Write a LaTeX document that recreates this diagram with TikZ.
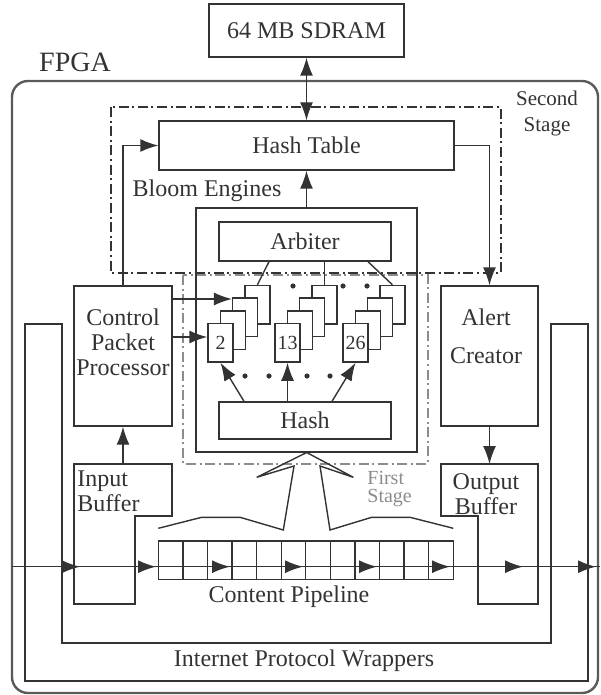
\documentclass[tikz,border=0pt]{standalone}
\usepackage{fontspec}
\setmainfont{Liberation Serif}
\usepackage{xcolor}
\usepackage{tikz}
\usetikzlibrary{positioning, arrows.meta, calc, decorations.markings}
\definecolor{ink}{HTML}{333333}
\definecolor{framegray}{HTML}{5A5A5A}
\definecolor{stagegray}{HTML}{8C8C8C}

\tikzset{
  lbl/.style={text=ink, inner sep=0pt, font=\fontsize{12}{12.5}\selectfont},
  blk/.style={draw=ink, line width=0.7pt, inner sep=0pt},
  eng/.style={blk, lbl, fill=white, minimum width=12.5pt, minimum height=19.25pt, font=\fontsize{10}{10}\selectfont},
  cell/.style={blk, minimum width=12.29pt, minimum height=19.15pt},
  arr/.style={draw=ink, line width=0.7pt, ->},
  wire/.style={draw=ink, line width=0.7pt},
  stagetwo/.style={draw=ink, line width=0.6pt, dash pattern=on 5pt off 1.8pt on 1pt off 1.8pt},
  stageone/.style={draw=stagegray, line width=0.6pt, dash pattern=on 5pt off 1.8pt on 1pt off 1.8pt},
}

\begin{document}
\begin{tikzpicture}[x=0.5pt, y=-0.5pt, >={Latex[length=9pt,width=6.5pt]}]
  \useasboundingbox (0,0) rectangle (600,695);

  \draw[framegray, line width=1.2pt, rounded corners=8pt] (12,81) rectangle (598,693);
  \node[lbl, font=\fontsize{14}{14}\selectfont] (fpga) at (75,62) {FPGA};
  \node[blk, lbl, minimum width=97.5pt, minimum height=26.5pt] (sdram) at (306.5,30.5) {64 MB SDRAM};

  \draw[stagetwo] (111,107) rectangle (501,273);
  \node[lbl, align=center, font=\fontsize{10.5}{13}\selectfont] (second) at (547,113) {Second\\Stage};
  \draw[stageone] (183,275) rectangle (428,464);
  \node[lbl, text=stagegray, align=left, anchor=west, font=\fontsize{10}{9}\selectfont] (first) at (367,489) {First\\Stage};

  \node[blk, lbl, minimum width=147.5pt, minimum height=24.5pt] (hashtable) at (306.5,145.5) {Hash Table};
  \node[lbl] (bloomlbl) at (207,191) {Bloom Engines};
  \node[blk, minimum width=110.5pt, minimum height=122pt] (bloom) at (306.5,330) {};
  \node[blk, lbl, minimum width=86pt, minimum height=19.5pt] (arbiter) at (305,241.5) {Arbiter};
  \node[blk, lbl, minimum width=86pt, minimum height=18.5pt] (hash) at (305,420.5) {Hash};

  \foreach \s/\x/\t in {1/208/2, 2/275/13, 3/343/26} {
    \foreach \k in {3,2,1}
      \node[eng] (eng-\s-\k) at ({\x+12.5+\k*12.3},{342.8-\k*12.7}) {};
    \node[eng] (eng-\s-0) at ({\x+12.5},342.8) {\t};
  }
  \foreach \p in {(293,286),(343,286),(367,286),(245,376),(269,376),(307,376),(330,376)}
    \fill[ink] \p circle (1.3pt);

  \draw[wire] ([xshift=-18pt]arbiter.south) -- (eng-1-3.north);
  \draw[wire] (arbiter.south -| eng-2-3.north) -- (eng-2-3.north);
  \draw[wire] ([xshift=31.5pt]arbiter.south) -- (eng-3-3.north);
  \draw[arr] ([xshift=-30.5pt]hash.north) -- (eng-1-0.south);
  \draw[arr] (hash.north -| eng-2-0.south) -- (eng-2-0.south);
  \draw[arr] ([xshift=13.5pt]hash.north) -- (eng-3-0.south);

  \node[blk, minimum width=49pt, minimum height=70pt] (cpp) at (123,356) {};
  \node[lbl, align=center] (cpptxt) at (123,342) {Control\\Packet\\Processor};
  \node[blk, minimum width=48.5pt, minimum height=70pt] (ac) at (489.5,356) {};
  \node[lbl, align=center, font=\fontsize{12}{19}\selectfont] (actxt) at (486,336) {Alert\\Creator};

  \coordinate (cppa) at ([yshift=28.5pt]cpp.east);
  \coordinate (cppb) at ([yshift=9.5pt]cpp.east);
  \draw[arr] (cppa) -- (cppa -| eng-1-2.west);
  \draw[arr] (cppb) -- (cppb -| eng-1-0.west);

  \draw[arr, <->] (sdram.south) -- (hashtable.north);
  \draw[arr] (cpp.north) |- (hashtable.west);
  \draw[arr] (hashtable.east) -| (ac.north);
  \draw[arr] (bloom.north) -- (hashtable.south);

  \draw[wire] (74,464) -- (172,464) -- (172,516) -- (135,516) -- (135,604) -- (74,604) -- cycle;
  \node[lbl, align=left, anchor=west] (ibtxt) at (77,491) {Input\\Buffer};
  \coordinate (ibtop) at (123,464);
  \draw[arr] (ibtop) -- (cpp.south);

  \draw[wire] (441,464) -- (538,464) -- (538,604) -- (478,604) -- (478,516) -- (441,516) -- cycle;
  \node[lbl, align=center] (obtxt) at (486,494) {Output\\Buffer};
  \coordinate (obtop) at (489.5,464);
  \draw[arr] (ac.south) -- (obtop);

  \draw[wire] (25,324) -- (62,324) -- (62,643) -- (551,643) -- (551,324) -- (588,324) -- (588,681) -- (25,681) -- cycle;
  \node[lbl] (ipw) at (304,661) {Internet Protocol Wrappers};

  \foreach \i in {1,...,12}
    \node[cell] (cell\i) at ({158.3+(\i-0.5)*24.58},560.2) {};
  \node[lbl] (pipelbl) at (289,597) {Content Pipeline};

  \coordinate (pin) at (12,566.7);
  \coordinate (pout) at (600,566.7);
  \draw[wire, postaction={decorate}, decoration={markings,
      mark=at position 34pt with {\arrow{>}},
      mark=at position 72pt with {\arrow{>}},
      mark=at position 109pt with {\arrow{>}},
      mark=at position 145.5pt with {\arrow{>}},
      mark=at position 182.5pt with {\arrow{>}},
      mark=at position 219pt with {\arrow{>}},
      mark=at position 255.5pt with {\arrow{>}},
      mark=at position 292pt with {\arrow{>}}}] (pin) -- (pout);

  \draw[wire] (158.3,528.3) -- (201.7,517.3) -- (240,517.3) -- (283.3,530) -- (294,466) -- (256.7,477.3)
    -- (306.7,452.5) -- (353.3,477.3) -- (320,466) -- (330,530) -- (371.7,517.3) -- (410,517.3) -- (453.3,528.3);
\end{tikzpicture}
\end{document}
